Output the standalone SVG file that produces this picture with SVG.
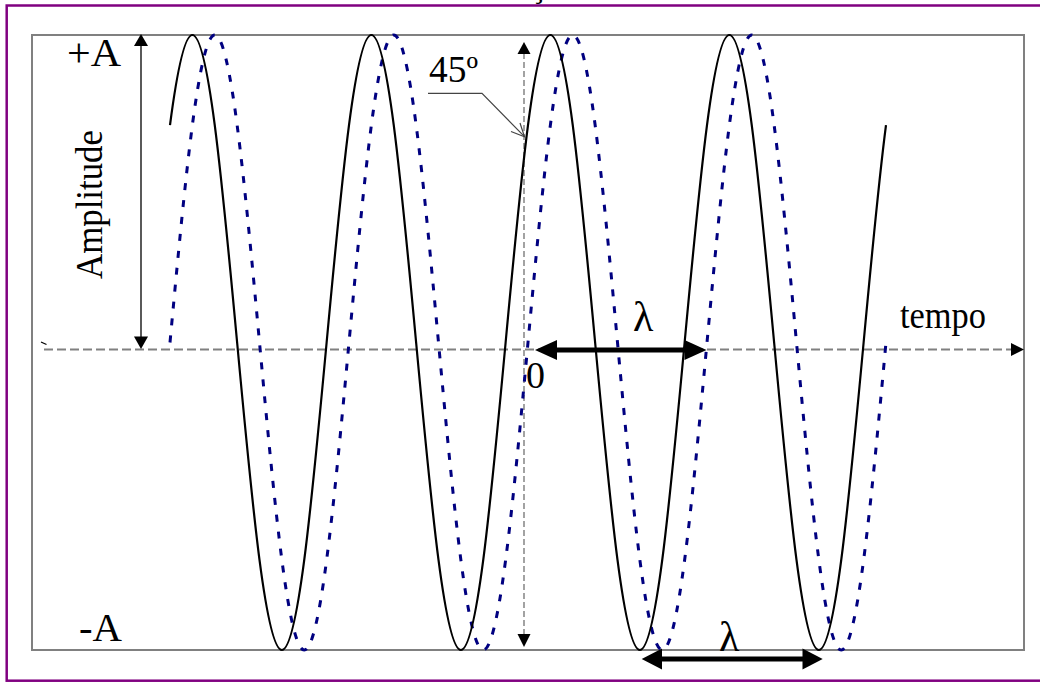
<svg xmlns="http://www.w3.org/2000/svg" width="1040" height="682" viewBox="0 0 1040 682">
<defs>
<style>
.txt{font-family:"Liberation Serif","Times New Roman",serif;fill:#000}
.frame{fill:none;stroke:#800080;stroke-width:2.5}
.box{fill:none;stroke:#808080;stroke-width:2}
.axis{fill:none;stroke:#808080;stroke-width:2;stroke-dasharray:9 4}
.vdash{fill:none;stroke:#666;stroke-width:1.2;stroke-dasharray:6 3}
.solid{fill:none;stroke:#000;stroke-width:2.2;stroke-linejoin:round}
.dotted{fill:none;stroke:#000080;stroke-width:3;stroke-dasharray:7 10}
.thin{fill:none;stroke:#000;stroke-width:1.3}
.lead{fill:none;stroke:#444;stroke-width:1.2}
.thick{fill:none;stroke:#000;stroke-width:5}
.head{fill:#000}
</style>
</defs>
<rect width="1040" height="682" fill="#fff"/>
<rect class="frame" x="6.7" y="5.5" width="1045" height="675.2"/>
<text class="txt" x="531" y="-3" font-size="32">ç</text>
<rect class="box" x="32" y="35" width="992" height="615"/>

<g id="connectors">
  <!-- time axis -->
  <line class="axis" x1="44" y1="349.5" x2="1013" y2="349.5"/>
  <polygon class="head" points="1024,349.5 1011,343 1011,356"/>
  <line class="thin" x1="41" y1="342" x2="46.5" y2="344.5"/>
  <!-- amplitude arrow -->
  <line class="thin" x1="141" y1="44" x2="141" y2="338"/>
  <polygon class="head" points="141,34 134,46 148,46"/>
  <polygon class="head" points="141,349 134,336.5 148,336.5"/>
  <!-- vertical dashed reference -->
  <line class="vdash" x1="524" y1="53" x2="524" y2="635"/>
  <polygon class="head" points="524,42 517.5,54 530.5,54"/>
  <polygon class="head" points="524,647 517.5,634 530.5,634"/>
  <!-- 45 leader -->
  <polyline class="lead" points="428,93.3 482,93.3 524.5,136.7"/>
  <polyline class="lead" points="511,131.5 524.5,136.7 520,123"/>
  <!-- lambda arrows -->
  <line class="thick" x1="552" y1="350" x2="689" y2="350"/>
  <polygon class="head" points="535,350 557,340 557,360"/>
  <polygon class="head" points="706.5,350 684.5,340 684.5,360"/>
  <line class="thick" x1="658" y1="659" x2="806" y2="659"/>
  <polygon class="head" points="641.7,659 662,648.5 662,669.5"/>
  <polygon class="head" points="822.7,659 802.5,648.5 802.5,669.5"/>
</g>

<g id="wave-dotted">
<path class="dotted" d="M170 342.5 c7.458 -80.5 14.917 -160.51 22.375 -217.43
s14.917 -90.07 22.375 -90.07 s14.917 33.15 22.375 90.07 s14.917 136.93 22.375 217.43 s14.917 160.51 22.375 217.43 s14.917 90.07 22.375 90.07 s14.917 -33.15 22.375 -90.07 s14.917 -136.93 22.375 -217.43
s14.917 -160.51 22.375 -217.43 s14.917 -90.07 22.375 -90.07 s14.917 33.15 22.375 90.07 s14.917 136.93 22.375 217.43 s14.917 160.51 22.375 217.43 s14.917 90.07 22.375 90.07 s14.917 -33.15 22.375 -90.07 s14.917 -136.93 22.375 -217.43
s14.917 -160.51 22.375 -217.43 s14.917 -90.07 22.375 -90.07 s14.917 33.15 22.375 90.07 s14.917 136.93 22.375 217.43 s14.917 160.51 22.375 217.43 s14.917 90.07 22.375 90.07 s14.917 -33.15 22.375 -90.07 s14.917 -136.93 22.375 -217.43
s14.917 -160.51 22.375 -217.43 s14.917 -90.07 22.375 -90.07 s14.917 33.15 22.375 90.07 s14.917 136.93 22.375 217.43 s14.917 160.51 22.375 217.43 s14.917 90.07 22.375 90.07 s14.917 -33.15 22.375 -90.07 s14.917 -136.93 22.375 -217.43"/>
</g>

<g id="wave-solid">
<path class="solid" d="M170 125.07 c7.458 -56.92 14.917 -90.07 22.375 -90.07
s14.917 33.15 22.375 90.07 s14.917 136.93 22.375 217.43 s14.917 160.51 22.375 217.43 s14.917 90.07 22.375 90.07 s14.917 -33.15 22.375 -90.07 s14.917 -136.93 22.375 -217.43 s14.917 -160.51 22.375 -217.43
s14.917 -90.07 22.375 -90.07 s14.917 33.15 22.375 90.07 s14.917 136.93 22.375 217.43 s14.917 160.51 22.375 217.43 s14.917 90.07 22.375 90.07 s14.917 -33.15 22.375 -90.07 s14.917 -136.93 22.375 -217.43 s14.917 -160.51 22.375 -217.43
s14.917 -90.07 22.375 -90.07 s14.917 33.15 22.375 90.07 s14.917 136.93 22.375 217.43 s14.917 160.51 22.375 217.43 s14.917 90.07 22.375 90.07 s14.917 -33.15 22.375 -90.07 s14.917 -136.93 22.375 -217.43 s14.917 -160.51 22.375 -217.43
s14.917 -90.07 22.375 -90.07 s14.917 33.15 22.375 90.07 s14.917 136.93 22.375 217.43 s14.917 160.51 22.375 217.43 s14.917 90.07 22.375 90.07 s14.917 -33.15 22.375 -90.07 s14.917 -136.93 22.375 -217.43 s14.917 -160.51 22.375 -217.43"/>
</g>

<g id="label-plusA"><text class="txt" x="67" y="66" font-size="40" textLength="54" lengthAdjust="spacingAndGlyphs">+A</text></g>
<g id="label-minusA"><text class="txt" x="79" y="641" font-size="40" textLength="43" lengthAdjust="spacingAndGlyphs">-A</text></g>
<g id="label-amplitude"><text class="txt" transform="translate(102,279) rotate(-90)" font-size="37" textLength="149" lengthAdjust="spacingAndGlyphs">Amplitude</text></g>
<g id="label-45"><text class="txt" x="429" y="82" font-size="38" textLength="49" lengthAdjust="spacingAndGlyphs">45º</text></g>
<g id="label-zero"><text class="txt" x="526" y="388" font-size="38">0</text></g>
<g id="label-lambda-top"><text class="txt" x="633" y="331" font-size="42">λ</text></g>
<g id="label-lambda-bottom"><text class="txt" x="719" y="651" font-size="42">λ</text></g>
<g id="label-tempo"><text class="txt" x="900" y="328" font-size="37" textLength="86" lengthAdjust="spacingAndGlyphs">tempo</text></g>
</svg>
